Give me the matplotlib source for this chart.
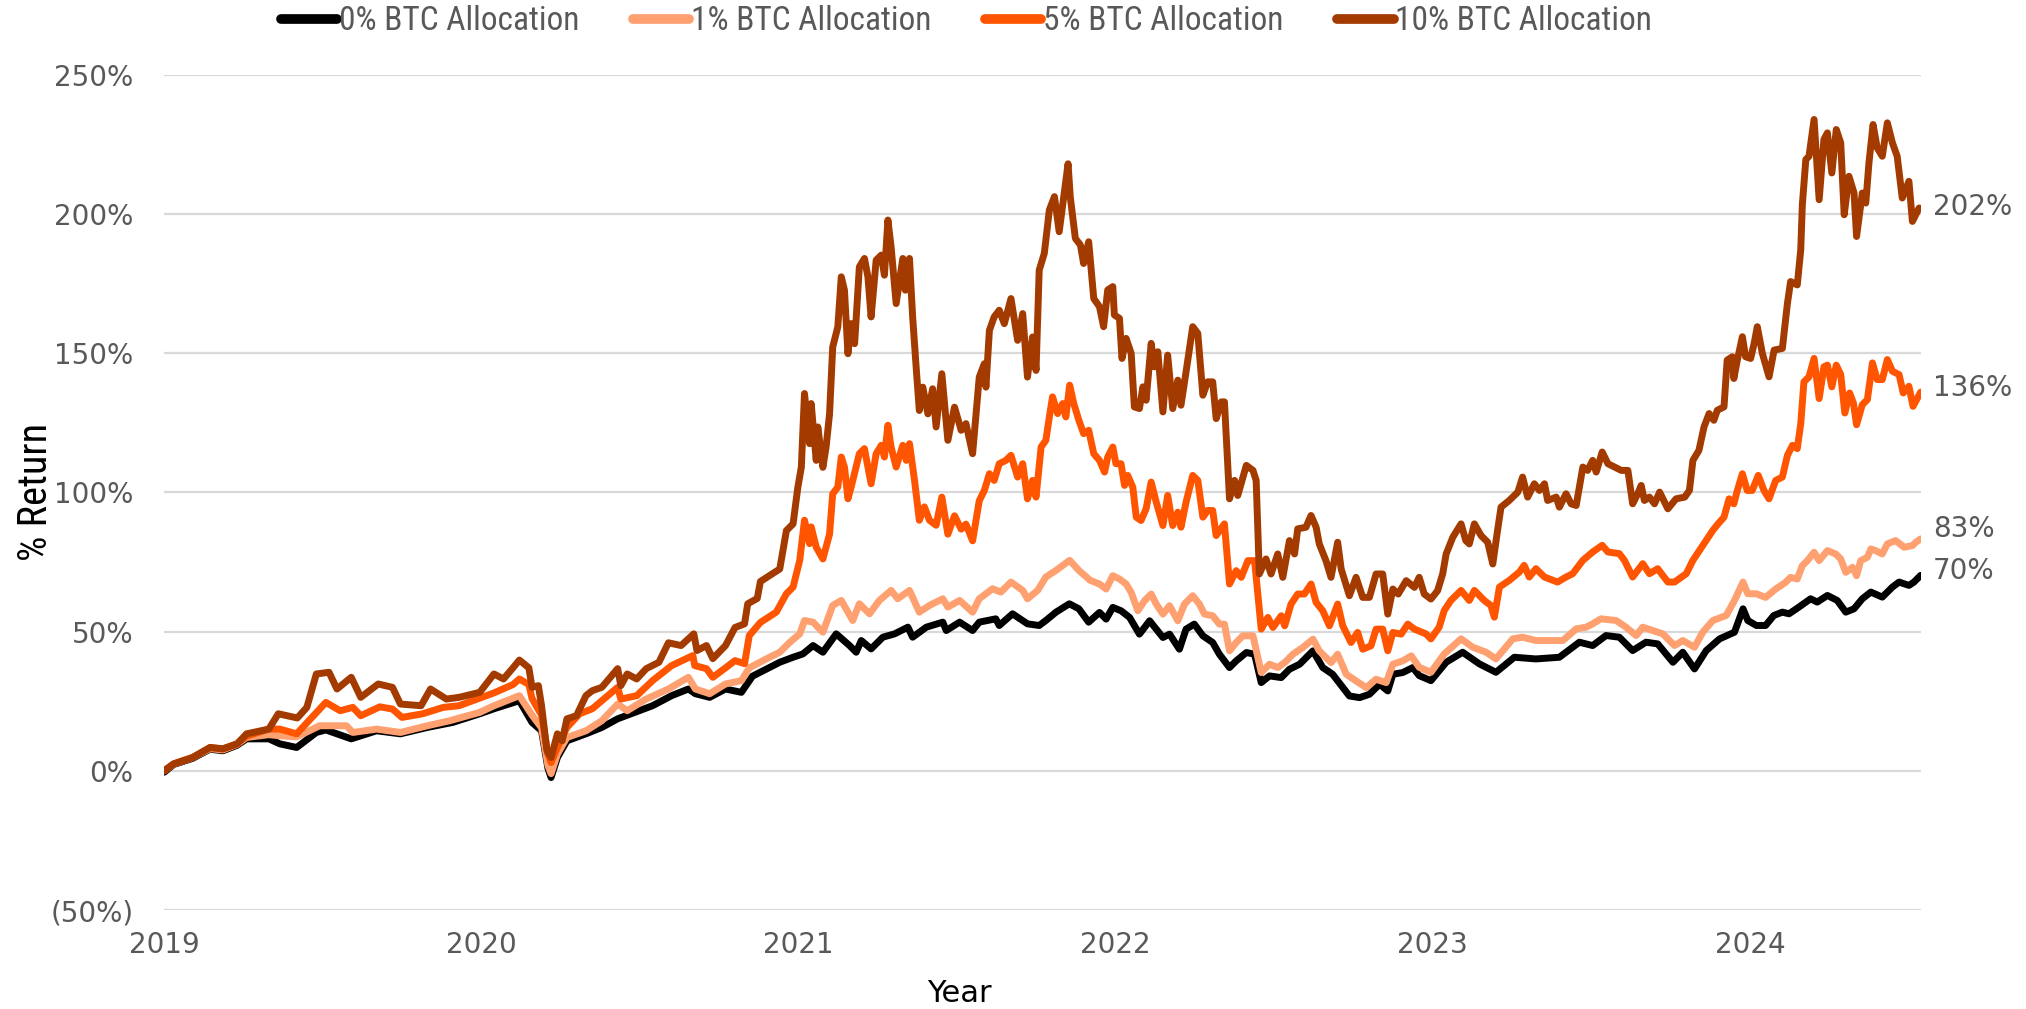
import numpy as np
import matplotlib
matplotlib.use("Agg")
import matplotlib.pyplot as plt
from matplotlib import font_manager
from matplotlib.ticker import FuncFormatter

START_YEAR = 2019
YEARS = [2019, 2020, 2021, 2022, 2023, 2024]
SERIES_NAMES = ["0% BTC Allocation", "1% BTC Allocation", "5% BTC Allocation", "10% BTC Allocation"]

# offsets are years since 2019-01-01, values are % return
btc0_t = [0.0, 0.03, 0.09, 0.145, 0.185, 0.23, 0.26, 0.33, 0.365, 0.418, 0.48, 0.51, 0.59, 0.67, 0.745,
          0.83, 0.91, 0.995, 1.04, 1.12, 1.16, 1.19, 1.21, 1.22, 1.24, 1.27, 1.33, 1.38, 1.43, 1.54,
          1.60, 1.653, 1.675, 1.72, 1.77, 1.82, 1.855, 1.92, 1.941, 1.983, 2.014, 2.046, 2.077, 2.119,
          2.161, 2.182, 2.198, 2.229, 2.266, 2.303, 2.345, 2.360, 2.403, 2.455, 2.466, 2.508, 2.549,
          2.570, 2.622, 2.633, 2.675, 2.722, 2.759, 2.780, 2.812, 2.854, 2.884, 2.915, 2.949, 2.970,
          2.991, 3.017, 3.044, 3.075, 3.107, 3.149, 3.170, 3.201, 3.222, 3.248, 3.275, 3.306, 3.327,
          3.359, 3.380, 3.412, 3.438, 3.459, 3.485, 3.522, 3.548, 3.580, 3.622, 3.653, 3.684, 3.737,
          3.769, 3.800, 3.832, 3.858, 3.874, 3.905, 3.937, 3.957, 3.994, 4.042, 4.094, 4.147, 4.199,
          4.257, 4.325, 4.399, 4.462, 4.504, 4.546, 4.588, 4.630, 4.672, 4.709, 4.757, 4.788, 4.825,
          4.862, 4.904, 4.951, 4.978, 4.993, 5.020, 5.049, 5.075, 5.102, 5.123, 5.154, 5.191, 5.212,
          5.244, 5.275, 5.302, 5.328, 5.354, 5.381, 5.417, 5.449, 5.470, 5.501, 5.517, 5.538]
btc0_v = [-0.5, 2.3, 4.5, 7.8, 7.2, 9.2, 11.5, 11.5, 9.7, 8.4, 13.8, 14.7, 11.5, 14.4, 13.3,
          15.6, 17.4, 20.5, 22.3, 25.2, 17.4, 14.4, 1.0, -2.4, 4.8, 10.8, 13.3, 15.6, 18.7, 23.4,
          27.0, 29.4, 27.7, 26.4, 29.4, 28.2, 34.0, 37.8, 39.0, 40.8, 42.0, 45.0, 42.6, 49.2,
          45.0, 42.6, 46.8, 43.8, 48.0, 49.2, 51.6, 48.0, 51.6, 53.4, 50.4, 53.4, 50.4,
          53.4, 54.6, 52.2, 56.4, 52.8, 52.2, 54.0, 57.0, 60.0, 58.2, 53.4, 56.9, 54.5,
          58.7, 57.5, 55.1, 49.1, 53.9, 47.9, 49.1, 43.7, 50.9, 52.7, 48.5, 46.1, 41.9,
          37.1, 39.5, 42.5, 41.9, 31.7, 34.1, 33.5, 36.5, 38.3, 43.1, 37.1, 34.7, 26.9,
          26.3, 27.5, 31.1, 28.7, 34.7, 35.3, 37.1, 34.2, 32.4, 39.0, 42.6, 38.4, 35.4,
          40.8, 40.2, 40.8, 46.2, 45.0, 48.6, 48.0, 43.2, 46.2, 45.6, 39.0, 42.6, 36.6,
          43.2, 47.4, 49.8, 58.2, 54.0, 52.2, 52.2, 55.8, 57.0, 56.4, 58.8, 61.8, 60.6,
          63.0, 61.2, 57.0, 58.2, 61.8, 64.2, 62.4, 66.0, 67.8, 66.6, 67.8, 70.2]

btc1_t = [0.0, 0.03, 0.09, 0.145, 0.185, 0.23, 0.26, 0.33, 0.365, 0.418, 0.49, 0.575, 0.595, 0.67,
          0.745, 0.83, 0.90, 0.995, 1.04, 1.12, 1.16, 1.19, 1.21, 1.22, 1.24, 1.27, 1.33, 1.38, 1.43,
          1.46, 1.52, 1.59, 1.653, 1.675, 1.72, 1.77, 1.82, 1.845, 1.90, 1.941, 1.973, 2.004, 2.019,
          2.046, 2.077, 2.108, 2.135, 2.171, 2.192, 2.224, 2.255, 2.292, 2.313, 2.350, 2.381, 2.413,
          2.455, 2.471, 2.508, 2.549, 2.570, 2.612, 2.638, 2.670, 2.707, 2.722, 2.754, 2.780, 2.812,
          2.855, 2.884, 2.920, 2.949, 2.970, 2.991, 3.012, 3.033, 3.049, 3.070, 3.091, 3.112, 3.128,
          3.149, 3.170, 3.196, 3.217, 3.243, 3.264, 3.280, 3.306, 3.327, 3.343, 3.359, 3.380, 3.401,
          3.433, 3.459, 3.485, 3.511, 3.533, 3.559, 3.590, 3.622, 3.642, 3.679, 3.700, 3.727, 3.758,
          3.790, 3.821, 3.853, 3.874, 3.905, 3.932, 3.957, 3.994, 4.036, 4.089, 4.126, 4.168, 4.199,
          4.252, 4.283, 4.325, 4.378, 4.410, 4.452, 4.483, 4.504, 4.530, 4.578, 4.609, 4.641, 4.662,
          4.694, 4.725, 4.762, 4.788, 4.825, 4.851, 4.883, 4.925, 4.951, 4.978, 4.993, 5.020, 5.049,
          5.081, 5.112, 5.128, 5.149, 5.165, 5.181, 5.202, 5.218, 5.244, 5.270, 5.286, 5.302, 5.323,
          5.336, 5.349, 5.370, 5.381, 5.396, 5.417, 5.433, 5.459, 5.486, 5.512, 5.523, 5.538]
btc1_v = [0.0, 2.5, 4.8, 8.0, 7.5, 9.5, 12.0, 13.0, 12.6, 12.2, 16.2, 16.2, 13.8, 15.0,
          13.8, 16.2, 18.0, 21.0, 23.4, 27.0, 20.0, 15.5, 2.0, -1.0, 6.0, 12.0, 14.4, 18.0, 24.0,
          21.6, 25.8, 29.4, 33.6, 29.4, 27.7, 31.2, 32.4, 37.0, 40.3, 42.6, 46.2, 49.2, 54.0,
          53.4, 49.8, 59.4, 61.2, 54.0, 60.0, 56.4, 61.2, 64.8, 61.8, 64.8, 57.0, 59.4,
          61.8, 58.8, 61.2, 57.0, 61.8, 65.4, 64.2, 67.8, 64.8, 61.8, 64.8, 69.6, 72.0,
          75.6, 72.0, 68.4, 67.1, 65.3, 70.1, 68.9, 67.1, 64.1, 57.5, 61.1, 63.5, 59.9,
          56.3, 59.3, 53.9, 59.9, 62.9, 59.9, 56.3, 55.7, 52.7, 52.7, 43.1, 46.1, 48.5,
          48.5, 35.3, 38.3, 37.1, 38.9, 41.9, 44.3, 47.3, 43.1, 38.9, 41.9, 34.7, 32.3,
          29.9, 32.9, 31.7, 38.3, 39.5, 41.3, 37.2, 35.4, 42.0, 47.4, 44.4, 42.6, 40.2,
          47.4, 48.0, 46.8, 46.8, 46.8, 51.0, 51.6, 52.8, 54.6, 54.0, 51.6, 48.6, 51.6,
          50.4, 49.2, 45.0, 46.8, 44.4, 49.8, 54.0, 55.8, 61.2, 67.8, 63.6, 63.6, 62.3,
          65.3, 67.7, 69.5, 68.9, 73.7, 75.5, 78.5, 75.5, 79.1, 77.9, 76.1, 71.3, 73.1,
          70.1, 75.5, 76.7, 79.7, 79.1, 77.9, 81.5, 82.7, 80.3, 80.9, 82.1, 83.3]

btc5_t = [0.0, 0.03, 0.09, 0.145, 0.185, 0.23, 0.26, 0.33, 0.365, 0.418, 0.51, 0.555, 0.595, 0.62,
          0.68, 0.72, 0.75, 0.815, 0.88, 0.93, 1.04, 1.10, 1.12, 1.15, 1.16, 1.19, 1.21, 1.22, 1.24,
          1.27, 1.31, 1.35, 1.43, 1.44, 1.49, 1.54, 1.60, 1.667, 1.673, 1.71, 1.73, 1.77, 1.80, 1.83,
          1.845, 1.88, 1.93, 1.962, 1.983, 2.004, 2.019, 2.035, 2.040, 2.056, 2.077, 2.098, 2.108,
          2.124, 2.135, 2.145, 2.156, 2.166, 2.192, 2.208, 2.229, 2.245, 2.261, 2.271, 2.282, 2.292,
          2.308, 2.329, 2.340, 2.350, 2.366, 2.381, 2.397, 2.413, 2.434, 2.452, 2.471, 2.492, 2.513,
          2.528, 2.549, 2.570, 2.586, 2.602, 2.617, 2.633, 2.654, 2.670, 2.691, 2.707, 2.722, 2.738,
          2.749, 2.765, 2.780, 2.791, 2.801, 2.817, 2.833, 2.843, 2.855, 2.868, 2.884, 2.899, 2.915,
          2.931, 2.949, 2.965, 2.975, 2.991, 3.001, 3.017, 3.028, 3.038, 3.054, 3.065, 3.080, 3.096,
          3.112, 3.128, 3.149, 3.164, 3.180, 3.196, 3.206, 3.222, 3.243, 3.259, 3.275, 3.290, 3.306,
          3.317, 3.343, 3.359, 3.380, 3.396, 3.417, 3.438, 3.459, 3.480, 3.496, 3.522, 3.533, 3.553,
          3.574, 3.595, 3.616, 3.632, 3.653, 3.674, 3.700, 3.716, 3.742, 3.763, 3.779, 3.805, 3.821,
          3.842, 3.858, 3.874, 3.900, 3.921, 3.942, 3.978, 3.994, 4.020, 4.036, 4.057, 4.089, 4.115,
          4.131, 4.162, 4.183, 4.194, 4.210, 4.241, 4.273, 4.288, 4.304, 4.325, 4.352, 4.393, 4.420,
          4.441, 4.473, 4.504, 4.534, 4.552, 4.588, 4.604, 4.630, 4.662, 4.683, 4.709, 4.741, 4.762,
          4.799, 4.820, 4.841, 4.862, 4.883, 4.900, 4.918, 4.934, 4.949, 4.960, 4.976, 4.991, 5.007,
          5.026, 5.044, 5.060, 5.081, 5.102, 5.118, 5.134, 5.149, 5.160, 5.170, 5.186, 5.202, 5.218,
          5.233, 5.244, 5.258, 5.272, 5.286, 5.299, 5.314, 5.326, 5.336, 5.354, 5.370, 5.386, 5.401,
          5.417, 5.433, 5.449, 5.470, 5.483, 5.501, 5.514, 5.538]
btc5_v = [0.0, 2.5, 4.8, 8.4, 7.9, 9.7, 12.5, 15.0, 15.0, 13.3, 24.6, 21.6, 22.8, 19.8,
          23.0, 22.2, 19.2, 20.5, 22.8, 23.4, 28.0, 31.0, 33.0, 31.0, 26.0, 20.0, 6.0, 3.0, 8.4,
          15.6, 20.5, 22.3, 30.0, 25.8, 27.0, 32.4, 37.8, 41.4, 37.8, 36.7, 33.6, 37.0, 39.6, 38.5,
          48.6, 53.3, 57.0, 63.6, 66.0, 75.6, 90.0, 81.6, 87.6, 80.3, 76.1, 85.0, 99.5,
          101.9, 112.7, 109.1, 97.7, 101.9, 113.9, 115.7, 103.1, 113.9, 116.9, 112.7, 124.1, 116.3,
          109.1, 116.9, 111.5, 117.5, 104.3, 90.0, 94.8, 90.0, 88.2, 98.3, 85.0, 91.6, 86.8,
          88.6, 82.6, 97.0, 100.7, 106.7, 104.3, 110.3, 111.5, 113.3, 105.5, 110.3, 97.7, 104.3,
          98.3, 116.3, 118.7, 127.1, 134.3, 128.3, 131.9, 127.1, 138.5, 131.9, 125.9, 121.1, 122.3,
          113.9, 111.5, 107.3, 112.7, 116.3, 110.3, 110.3, 102.5, 106.1, 101.9, 91.1, 89.9, 94.1,
          103.7, 96.5, 88.1, 98.9, 88.1, 92.9, 87.5, 96.5, 106.1, 104.3, 91.1, 93.5, 93.5,
          84.5, 88.7, 67.1, 71.9, 69.5, 75.5, 75.5, 50.9, 55.1, 51.5, 55.7, 52.1, 59.9,
          63.5, 63.5, 67.1, 60.5, 57.5, 52.1, 59.9, 52.1, 46.1, 49.7, 43.7, 44.9, 50.9,
          50.9, 43.1, 49.7, 49.1, 52.7, 50.9, 49.2, 47.4, 51.6, 57.6, 61.2, 64.8, 61.2,
          64.8, 61.2, 59.4, 55.2, 66.0, 68.4, 71.4, 73.8, 69.6, 72.6, 69.6, 67.8, 69.6,
          70.8, 75.6, 78.6, 81.0, 78.6, 78.0, 75.6, 69.6, 74.4, 70.8, 72.6, 67.8, 67.8,
          70.8, 75.6, 79.2, 82.8, 86.4, 88.8, 91.1, 97.7, 95.9, 100.7, 106.7, 100.7, 100.7,
          106.1, 100.7, 97.7, 104.3, 105.5, 113.3, 116.9, 115.7, 124.7, 139.7, 141.5, 148.1, 133.7,
          145.1, 145.7, 137.9, 145.7, 142.3, 128.5, 135.7, 132.1, 124.3, 131.5, 133.3, 146.5, 140.5,
          140.5, 147.7, 143.5, 142.3, 135.7, 138.1, 130.9, 136.0]

btc10_t = [0.0, 0.03, 0.09, 0.145, 0.185, 0.23, 0.26, 0.33, 0.36, 0.42, 0.45, 0.48, 0.52, 0.545,
           0.59, 0.62, 0.675, 0.72, 0.745, 0.81, 0.84, 0.89, 0.93, 0.995, 1.04, 1.07, 1.10, 1.12, 1.15,
           1.16, 1.18, 1.19, 1.207, 1.22, 1.24, 1.255, 1.27, 1.30, 1.33, 1.35, 1.38, 1.43, 1.44, 1.46,
           1.49, 1.52, 1.56, 1.59, 1.63, 1.67, 1.68, 1.71, 1.73, 1.77, 1.80, 1.83, 1.84, 1.87, 1.88,
           1.941, 1.962, 1.983, 1.998, 2.009, 2.019, 2.035, 2.040, 2.056, 2.061, 2.077, 2.087, 2.098,
           2.108, 2.124, 2.135, 2.145, 2.156, 2.166, 2.177, 2.192, 2.208, 2.219, 2.229, 2.245, 2.261,
           2.271, 2.282, 2.292, 2.308, 2.329, 2.337, 2.350, 2.360, 2.371, 2.381, 2.392, 2.408, 2.423,
           2.434, 2.452, 2.471, 2.492, 2.513, 2.528, 2.549, 2.570, 2.586, 2.591, 2.602, 2.617, 2.633,
           2.649, 2.670, 2.691, 2.707, 2.722, 2.738, 2.749, 2.759, 2.775, 2.791, 2.807, 2.822, 2.833,
           2.850, 2.857, 2.873, 2.889, 2.899, 2.915, 2.931, 2.949, 2.962, 2.975, 2.991, 2.996, 3.012,
           3.020, 3.033, 3.049, 3.059, 3.075, 3.086, 3.096, 3.112, 3.122, 3.133, 3.149, 3.164, 3.180,
           3.196, 3.206, 3.222, 3.243, 3.259, 3.275, 3.290, 3.306, 3.317, 3.333, 3.343, 3.359, 3.375,
           3.385, 3.412, 3.433, 3.443, 3.453, 3.474, 3.490, 3.511, 3.527, 3.548, 3.564, 3.574, 3.600,
           3.616, 3.632, 3.642, 3.663, 3.679, 3.700, 3.711, 3.737, 3.758, 3.779, 3.800, 3.821, 3.842,
           3.858, 3.874, 3.891, 3.916, 3.942, 3.957, 3.973, 3.994, 4.015, 4.031, 4.042, 4.063, 4.089,
           4.104, 4.115, 4.131, 4.152, 4.173, 4.189, 4.204, 4.215, 4.241, 4.268, 4.283, 4.299, 4.320,
           4.336, 4.352, 4.362, 4.389, 4.399, 4.420, 4.436, 4.452, 4.473, 4.488, 4.504, 4.515, 4.534,
           4.552, 4.573, 4.594, 4.615, 4.630, 4.646, 4.657, 4.667, 4.683, 4.699, 4.715, 4.741, 4.767,
           4.794, 4.809, 4.820, 4.839, 4.855, 4.871, 4.886, 4.897, 4.918, 4.928, 4.944, 4.949, 4.960,
           4.976, 4.986, 5.002, 5.013, 5.023, 5.039, 5.060, 5.076, 5.102, 5.118, 5.128, 5.149, 5.160,
           5.165, 5.176, 5.186, 5.202, 5.218, 5.233, 5.244, 5.258, 5.272, 5.286, 5.297, 5.312, 5.328,
           5.336, 5.354, 5.365, 5.375, 5.388, 5.401, 5.417, 5.433, 5.449, 5.464, 5.480, 5.501, 5.512,
           5.533, 5.538]
btc10_v = [0.0, 2.5, 4.8, 8.4, 7.9, 9.7, 13.3, 15.0, 20.5, 19.0, 22.8, 34.8, 35.4, 29.4,
           33.6, 26.4, 31.2, 30.0, 24.0, 23.4, 29.4, 25.8, 26.4, 28.2, 34.8, 33.0, 37.0, 39.8, 37.0,
           30.0, 30.6, 23.4, 7.2, 4.8, 13.3, 10.8, 18.7, 19.8, 27.0, 28.8, 30.0, 36.7, 30.6, 34.8,
           33.0, 36.7, 39.0, 46.0, 45.0, 49.2, 43.2, 45.0, 40.3, 45.0, 51.5, 52.8, 60.0, 61.9, 68.0,
           72.5, 86.3, 88.7, 101.8, 109.0, 135.5, 117.5, 131.9, 111.5, 123.5, 109.0, 116.2, 128.2,
           152.2, 159.4, 177.4, 172.6, 149.8, 160.6, 153.4, 181.0, 184.0, 177.4, 163.0, 183.4, 185.2,
           178.0, 197.8, 188.2, 167.8, 184.0, 172.6, 184.0, 163.0, 145.0, 129.4, 137.8, 128.2, 137.2,
           123.5, 142.6, 118.7, 130.6, 122.3, 124.7, 113.9, 141.4, 146.2, 137.8, 158.2, 163.0, 165.4,
           160.6, 169.6, 154.6, 164.2, 141.4, 155.8, 143.8, 179.8, 185.8, 201.4, 206.2, 193.6, 203.2,
           218.0, 206.0, 191.2, 188.8, 182.2, 190.0, 169.6, 166.7, 159.5, 172.7, 173.9, 163.7, 162.5,
           148.1, 155.3, 149.9, 130.7, 130.1, 137.9, 133.1, 153.5, 145.1, 150.5, 128.9, 149.3, 130.1,
           140.3, 131.3, 143.3, 159.5, 157.1, 134.9, 139.7, 139.7, 126.5, 132.5, 132.5, 97.7, 104.3,
           98.9, 109.7, 107.9, 104.3, 70.7, 76.1, 70.7, 77.9, 69.5, 82.7, 77.9, 86.9, 87.5,
           91.7, 87.5, 81.5, 75.5, 69.5, 82.1, 72.5, 62.9, 69.5, 62.3, 62.3, 70.7, 70.7,
           56.3, 65.3, 63.5, 68.3, 65.9, 69.5, 63.5, 61.7, 64.7, 70.7, 77.9, 83.9, 88.7,
           82.7, 81.5, 88.7, 84.5, 82.1, 74.3, 86.3, 94.7, 97.1, 100.1, 105.5, 98.3, 103.1,
           100.7, 103.1, 97.1, 98.3, 94.7, 99.5, 95.9, 95.3, 109.1, 107.9, 111.5, 107.3, 114.5,
           110.3, 109.1, 107.9, 107.9, 95.9, 99.5, 102.5, 97.1, 98.3, 95.9, 100.1, 94.1, 97.7,
           98.3, 100.7, 111.5, 115.1, 123.5, 128.3, 125.9, 129.5, 130.7, 147.5, 148.7, 140.9, 147.5,
           155.9, 148.7, 148.1, 153.5, 159.5, 149.9, 141.5, 151.1, 151.7, 167.9, 175.7, 174.5, 187.1,
           203.3, 219.5, 220.7, 233.9, 205.1, 226.7, 229.1, 214.7, 230.3, 225.5, 199.7, 213.5, 207.5,
           191.9, 207.5, 203.9, 218.3, 232.1, 223.7, 220.7, 232.7, 225.5, 220.7, 205.7, 211.7, 197.3,
           202.1, 202.0]

COLORS = ["#000000", "#FFA070", "#FF5500", "#A33A00"]
LABEL_NUDGE = [1.5, 3.5, 1.5, 0.5]   # small vertical shift of end labels (in % units)

# fonts
installed = {f.name for f in font_manager.fontManager.ttflist}
narrow = next((n for n in ["Liberation Sans Narrow", "Roboto Condensed", "Open Sans Condensed"]
               if n in installed), "DejaVu Sans")
wide = "DejaVu Sans"
GREY = "#595959"

fig = plt.figure(figsize=(20.26, 10.09), dpi=100)
ax = fig.add_axes([0.081, 0.098, 0.867, 0.828])

series = [(btc0_t, btc0_v), (btc1_t, btc1_v), (btc5_t, btc5_v), (btc10_t, btc10_v)]
for (t, v), name, clr, nudge in zip(series, SERIES_NAMES, COLORS, LABEL_NUDGE):
    x = START_YEAR + np.array(t)
    ax.plot(x, v, color=clr, lw=5, label=name, solid_joinstyle="round", solid_capstyle="round")
    ax.annotate(f"{v[-1]:.0f}%", xy=(x[-1], v[-1] + nudge), xytext=(9, 0),
                textcoords="offset points", va="center", ha="left",
                fontsize=20, color=GREY, family=wide, annotation_clip=False)

ax.set_xlim(START_YEAR, START_YEAR + btc10_t[-1])
ax.set_ylim(-50, 250)
ax.set_xticks(YEARS)
ax.set_yticks(np.arange(-50, 251, 50))
ax.yaxis.set_major_formatter(FuncFormatter(lambda y, _: f"({abs(y):.0f}%)" if y < 0 else f"{y:.0f}%"))

ax.yaxis.grid(True, color="#d9d9d9", lw=1.6)
ax.set_axisbelow(True)
for s in ax.spines.values():
    s.set_visible(False)
ax.tick_params(axis="both", length=0, labelsize=20, labelcolor=GREY)
ax.tick_params(axis="y", pad=22)
ax.tick_params(axis="x", pad=15)
for lbl in ax.get_xticklabels() + ax.get_yticklabels():
    lbl.set_family(wide)

ax.set_ylabel("% Return", fontsize=29, family=narrow, color="black")
ax.yaxis.set_label_coords(-0.062, 0.5)
ax.set_xlabel("Year", fontsize=22, family=wide, color="black")
ax.xaxis.set_label_coords(0.453, -0.082)

leg = fig.legend(loc="center", bbox_to_anchor=(0.477, 0.979), ncol=4, frameon=False,
                 prop={"family": narrow, "size": 24}, labelcolor=GREY,
                 handlelength=1.7, handletextpad=0.05, columnspacing=1.6)
for ln in leg.get_lines():
    ln.set_linewidth(7)
    ln.set_solid_capstyle("round")

fig.savefig("out.png", dpi=100)
